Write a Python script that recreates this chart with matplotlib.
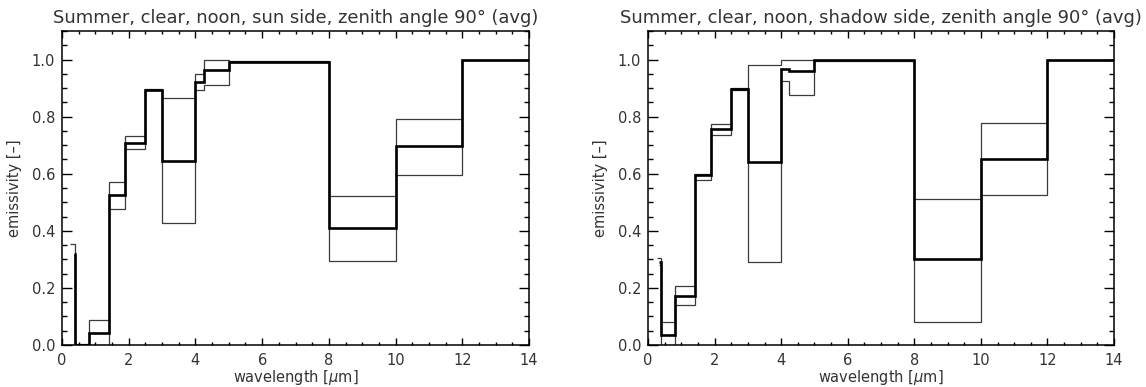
import matplotlib
matplotlib.use("Agg")
import matplotlib.pyplot as plt
from matplotlib.ticker import MultipleLocator

# bin edges (um), the first bin starts at a per-line position
edges = [0.4, 0.8, 1.4, 1.9, 2.5, 3.0, 4.0, 4.25, 5.0, 8.0, 10.0, 12.0, 14.0]

# sun side
sun_start = {"mean": 0.35, "max": 0.25, "min": 0.35}
sun_mean = [0.318, 0.0, 0.043, 0.526, 0.709, 0.895, 0.646, 0.922, 0.965, 0.993, 0.41, 0.697, 1.0]
sun_max = [0.354, 0.004, 0.086, 0.571, 0.732, 0.897, 0.866, 0.95, 0.998, 0.996, 0.523, 0.79, 1.0]
sun_min = [0.30, 0.0, 0.0, 0.477, 0.685, 0.893, 0.428, 0.895, 0.912, 0.99, 0.295, 0.597, 1.0]

# shadow side
sha_start = {"mean": 0.32, "max": 0.28, "min": 0.32}
sha_mean = [0.29, 0.036, 0.173, 0.594, 0.757, 0.897, 0.64, 0.968, 0.961, 0.997, 0.30, 0.651, 1.0]
sha_max = [0.304, 0.082, 0.205, 0.599, 0.774, 0.90, 0.982, 1.0, 1.0, 0.999, 0.512, 0.776, 1.0]
sha_min = [0.28, 0.0, 0.141, 0.578, 0.735, 0.893, 0.292, 0.926, 0.875, 0.995, 0.082, 0.527, 1.0]

titles = ["Summer, clear, noon, sun side, zenith angle 90\u00b0 (avg)",
          "Summer, clear, noon, shadow side, zenith angle 90\u00b0 (avg)"]

txt = "#333333"
fig = plt.figure(figsize=(11.46, 3.87), dpi=100)
ax1 = fig.add_axes([62 / 1146, 42 / 387, 467 / 1146, 314 / 387])
ax2 = fig.add_axes([648 / 1146, 42 / 387, 466 / 1146, 314 / 387])

panels = [(ax1, sun_start, sun_mean, sun_max, sun_min, titles[0]),
          (ax2, sha_start, sha_mean, sha_max, sha_min, titles[1])]

for ax, st, mean, vmax, vmin, title in panels:
    # thin lines first, thick mean on top
    ax.stairs(vmax, [st["max"]] + edges, baseline=None, color="#3a3a3a", lw=0.9)
    ax.stairs(vmin, [st["min"]] + edges, baseline=None, color="#3a3a3a", lw=0.9)
    ax.stairs(mean, [st["mean"]] + edges, baseline=None, color="black", lw=1.9)

    ax.set_xlim(0, 14)
    ax.set_ylim(0, 1.1)
    ax.xaxis.set_major_locator(MultipleLocator(2))
    ax.xaxis.set_minor_locator(MultipleLocator(0.5))
    ax.yaxis.set_major_locator(MultipleLocator(0.2))
    ax.yaxis.set_minor_locator(MultipleLocator(0.05))
    ax.yaxis.set_major_formatter(plt.FormatStrFormatter("%.1f"))
    ax.tick_params(axis="both", which="both", direction="in", top=True, right=True,
                   labelsize=10.5, labelcolor=txt, width=1.0)
    ax.tick_params(axis="x", which="major", length=5, pad=6)
    ax.tick_params(axis="x", which="minor", length=2.5)
    ax.tick_params(axis="y", which="major", length=7, pad=5)
    ax.tick_params(axis="y", which="minor", length=3.5)
    for s in ax.spines.values():
        s.set_linewidth(1.1)

    ax.set_title(title, fontsize=12.9, color=txt, pad=6)
    ax.set_xlabel(r"wavelength [$\mu$m]", fontsize=10.5, color=txt, labelpad=0)
    ax.set_ylabel("emissivity [\u2013]", fontsize=10.5, color=txt, labelpad=7)

plt.savefig("out.png", dpi=100)
